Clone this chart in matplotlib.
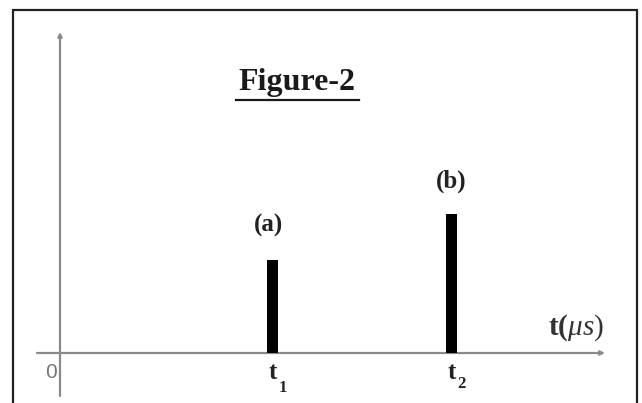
import matplotlib.pyplot as plt
from matplotlib.patches import Rectangle

# pulse data (arbitrary units)
pulse_labels = ['(a)', '(b)']
pulse_times = [2.4, 4.42]
pulse_heights = [2.0, 3.0]
time_subs = ['1', '2']

plt.rcParams['mathtext.fontset'] = 'custom'
plt.rcParams['mathtext.rm'] = 'Liberation Serif'
plt.rcParams['mathtext.it'] = 'Liberation Serif:italic'
plt.rcParams['mathtext.bf'] = 'Liberation Serif:bold'

W, H = 642, 403
fig = plt.figure(figsize=(W / 100, H / 100), dpi=100)
ax = fig.add_axes([0, 0, 1, 1])
ax.axis('off')

# scale: px per unit, origin at pixel (60, 353)
sx, sy = 88.5, 46.5
ox, oy = 60, 353
ax.set_xlim(-ox / sx, (W - ox) / sx)
ax.set_ylim(-(H - oy) / sy, oy / sy)

axis_col = '#8a8a8a'
# y axis
ax.annotate('', xy=(0, 321 / sy), xytext=(0, -43 / sy),
            arrowprops=dict(arrowstyle='-|>', color=axis_col, lw=1.6,
                            mutation_scale=6, shrinkA=0, shrinkB=0))
# x axis
ax.annotate('', xy=(545 / sx, 0), xytext=(-23 / sx, 0),
            arrowprops=dict(arrowstyle='-|>', color=axis_col, lw=1.6,
                            mutation_scale=6, shrinkA=0, shrinkB=0))

# pulses
ax.bar(pulse_times, pulse_heights, width=11 / sx, color='black', zorder=3)

serif = 'Liberation Serif'
for t, h, lab, dx, dy in zip(pulse_times, pulse_heights, pulse_labels,
                             [-3, 0], [25, 23]):
    ax.annotate(lab, xy=(t, h), xytext=(dx, dy), textcoords='offset points',
                ha='center', va='center', fontsize=18, fontweight='bold',
                family=serif, color='#222222')

for t, sub, sdy in zip(pulse_times, time_subs, [-25, -22]):
    ax.annotate('t', xy=(t, 0), xytext=(0.5, -14), textcoords='offset points',
                ha='center', va='center', fontsize=18, fontweight='bold',
                family=serif, color='#222222')
    ax.annotate(sub, xy=(t, 0), xytext=(7.5, sdy), textcoords='offset points',
                ha='center', va='center', fontsize=12, fontweight='bold',
                family=serif, color='#222222')

ax.text(-9 / sx, -20 / sy, '0', ha='center', va='center', fontsize=15,
        family='Liberation Sans', color='#777777')

ax.text(488 / sx, 25 / sy, r'$\mathbf{t(}\mu s)$', ha='left', va='center',
        fontsize=21, color='#333333')

# title with underline
title = fig.text(297 / W, 1 - 90 / H, 'Figure-2', ha='center', va='baseline',
                 fontsize=23, fontweight='bold', family=serif, color='#1a1a1a')
fig.canvas.draw()
bb = title.get_window_extent()
fig.add_artist(plt.Line2D([(bb.x0 - 3) / W, (bb.x1 + 3) / W],
                          [1 - 100 / H, 1 - 100 / H], color='#1a1a1a',
                          lw=1.6, transform=fig.transFigure))

# frame around the picture (bottom edge off-image)
fig.add_artist(Rectangle((13 / W, -0.05), (637 - 13) / W, (H - 10) / H + 0.05,
                         transform=fig.transFigure, fill=False,
                         edgecolor='#222222', lw=1.6))

fig.savefig('out.png', dpi=100)
